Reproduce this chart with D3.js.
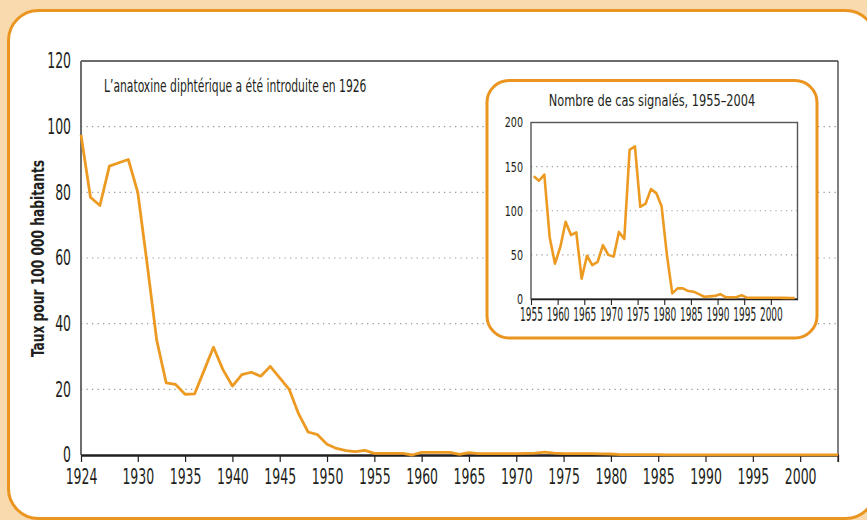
<!DOCTYPE html>
<html><head><meta charset="utf-8">
<script src="https://cdn.jsdelivr.net/npm/d3@7/dist/d3.min.js"></script>
<style>
html,body{margin:0;padding:0;background:#F9D9AE;}
svg{display:block;}
text{font-family:"DejaVu Sans Condensed","DejaVu Sans",sans-serif;fill:#231F20;}
</style></head>
<body>
<script>
// ---- Main series: rate per 100 000 population ----
const mainYears = [1924,1925,1926,1927,1928,1929,1930,1931,1932,1933,1934,1935,1936,1937,1938,1939,1940,1941,1942,1943,1944,1945,1946,1947,1948,1949,1950,1951,1952,1953,1954,1955,1956,1957,1958,1959,1960,1961,1962,1963,1964,1965,1966,1967,1968,1969,1970,1971,1972,1973,1974,1975,1976,1977,1978,1979,1980,1981,1982,1983,1984,1985,1986,1987,1988,1989,1990,1991,1992,1993,1994,1995,1996,1997,1998,1999,2000,2001,2002,2003,2004];
const mainRates = [97.5,78.5,76,88,89,90,80,58,35,22,21.5,18.5,18.6,25.7,32.8,26,21,24.5,25.2,24,27,23.5,20,12.5,7,6.2,3.3,2,1.3,1,1.4,0.5,0.5,0.5,0.5,0.0,0.8,0.8,0.8,0.8,0.2,0.7,0.4,0.4,0.4,0.4,0.4,0.5,0.6,0.9,0.6,0.4,0.4,0.4,0.4,0.35,0.3,0.1,0.1,0.1,0.1,0.1,0.05,0.05,0.05,0.05,0.05,0.05,0.05,0.05,0.05,0.05,0.05,0.05,0.05,0.05,0.05,0.05,0.05,0.05,0.05];
const mainYTicks = [0,20,40,60,80,100,120];
const mainXTicks = [1924,1930,1935,1940,1945,1950,1955,1960,1965,1970,1975,1980,1985,1990,1995,2000];

// ---- Inset series: number of reported cases ----
const insetYears = [1955,1956,1957,1958,1959,1960,1961,1962,1963,1964,1965,1966,1967,1968,1969,1970,1971,1972,1973,1974,1975,1976,1977,1978,1979,1980,1981,1982,1983,1984,1985,1986,1987,1988,1989,1990,1991,1992,1993,1994,1995,1996,1997,1998,1999,2000,2001,2002,2003,2004];
const insetCases = [139,134,141,70,40,59,87.5,72.5,75.5,23,49,38.5,42,61,50,48,76,68,169,173,104.5,108,124.5,120,105,50,6.4,12,12,9,8.3,5.5,2.6,3,3.5,5.5,2,2,2,4.2,1.5,1.5,1.5,1.5,1.5,1.5,1.4,1.3,1.2,1.1];
const insetYTicks = [0,50,100,150,200];
const insetXTicks = [1955,1960,1965,1970,1975,1980,1985,1990,1995,2000];

const annotation = "L\u2019anatoxine diphtérique a été introduite en 1926";
const yTitle = "Taux pour 100 000 habitants";
const insetTitle = "Nombre de cas signalés, 1955\u20132004";

const W = 867, H = 520;
const ORANGE = "#EA951F";
const LINE = "#EC9A22";

const svg = d3.select("body").append("svg").attr("width", W).attr("height", H);

// panel
svg.append("rect").attr("x", 8.5).attr("y", 10.5).attr("width", 867).attr("height", 508)
  .attr("rx", 30).attr("fill", "#fff").attr("stroke", ORANGE).attr("stroke-width", 3);

// ---- main chart ----
const x = d3.scaleLinear().domain([1924, 2004]).range([81, 838]);
const y = d3.scaleLinear().domain([0, 120]).range([455, 61]);

// gridlines
svg.append("g").selectAll("line").data(mainYTicks.filter(v => v > 0 && v < 120)).join("line")
  .attr("x1", x(1924)).attr("x2", x(2004)).attr("y1", d => y(d)).attr("y2", d => y(d))
  .attr("stroke", "#9a9a9a").attr("stroke-width", 1.2).attr("stroke-dasharray", "1.3,4.2");

// frame top & right
svg.append("line").attr("x1", x(1924)).attr("x2", x(2004)).attr("y1", y(120)).attr("y2", y(120))
  .attr("stroke", "#3a3a3a").attr("stroke-width", 1.3);
svg.append("line").attr("x1", x(2004)).attr("x2", x(2004)).attr("y1", y(120)).attr("y2", y(0) + 7)
  .attr("stroke", "#3a3a3a").attr("stroke-width", 1.3);
// left axis line
svg.append("line").attr("x1", x(1924)).attr("x2", x(1924)).attr("y1", y(120)).attr("y2", y(0))
  .attr("stroke", "#6d6d6d").attr("stroke-width", 2);

// y labels
const MS = 0.66;
const yAx = svg.append("g").attr("transform", `translate(${x(1924)},0)`)
  .call(d3.axisLeft(y).tickValues(mainYTicks).tickSize(0));
yAx.select(".domain").remove();
yAx.selectAll("text").attr("font-size", 21).attr("font-family", null)
  .attr("transform", `scale(${MS},1)`).attr("x", -10 / MS);

// annotation
svg.append("text").attr("transform", `translate(104,92) scale(0.705,1)`)
  .attr("font-size", 17).text(annotation);

// y title
svg.append("text").attr("transform", "translate(44,258.5) rotate(-90) scale(0.8,1)")
  .attr("text-anchor", "middle").attr("font-size", 17).attr("font-weight", "bold").text(yTitle);

// line
const mainLine = d3.line().x((d, i) => x(mainYears[i])).y(d => y(d));

// x axis
const xAx = svg.append("g").attr("transform", `translate(0,${y(0)})`)
  .call(d3.axisBottom(x).tickValues(mainXTicks.concat([2004])).tickFormat(d => d === 2004 ? "" : d3.format("d")(d))
    .tickSizeInner(7).tickSizeOuter(0).tickPadding(7));
xAx.select(".domain").attr("stroke", "#231F20").attr("stroke-width", 2.4);
xAx.selectAll(".tick line").attr("stroke", "#231F20").attr("stroke-width", 1.2);
xAx.selectAll("text").attr("font-size", 21).attr("font-family", null).attr("transform", `scale(${MS},1)`);

svg.append("path").datum(mainRates).attr("d", mainLine).attr("fill", "none")
  .attr("stroke", LINE).attr("stroke-width", 2.8).attr("stroke-linejoin", "round");

// ---- inset ----
svg.append("rect").attr("x", 487).attr("y", 80.5).attr("width", 330).attr("height", 257.5)
  .attr("rx", 22).attr("fill", "#fff").attr("stroke", ORANGE).attr("stroke-width", 3);

const ix = d3.scaleLinear().domain([1955, 2005]).range([531, 797.5]);
const iy = d3.scaleLinear().domain([0, 200]).range([299, 122.5]);

svg.append("text").attr("transform", `translate(652,106) scale(0.79,1)`).attr("text-anchor", "middle")
  .attr("font-size", 16).text(insetTitle);

svg.append("g").selectAll("line").data(insetYTicks.filter(v => v > 0 && v < 200)).join("line")
  .attr("x1", ix(1955)).attr("x2", ix(2005)).attr("y1", d => iy(d)).attr("y2", d => iy(d))
  .attr("stroke", "#9a9a9a").attr("stroke-width", 1.1).attr("stroke-dasharray", "1.2,4");

svg.append("rect").attr("x", ix(1955)).attr("y", iy(200)).attr("width", ix(2005) - ix(1955))
  .attr("height", iy(0) - iy(200)).attr("fill", "none").attr("stroke", "#555").attr("stroke-width", 1.4);

const IS = 0.76;
const iyAx = svg.append("g").attr("transform", `translate(${ix(1955)},0)`)
  .call(d3.axisLeft(iy).tickValues(insetYTicks).tickSize(0));
iyAx.select(".domain").remove();
iyAx.selectAll("text").attr("font-size", 14).attr("font-family", null)
  .attr("transform", `scale(${IS},1)`).attr("x", -8 / IS);

const IXS = 0.5;
const ixAx = svg.append("g").attr("transform", `translate(0,${iy(0)})`)
  .call(d3.axisBottom(ix).tickValues(insetXTicks).tickFormat(d3.format("d")).tickSizeInner(6).tickSizeOuter(0).tickPadding(2));
ixAx.select(".domain").attr("stroke", "#231F20").attr("stroke-width", 1.6);
ixAx.selectAll(".tick line").attr("stroke", "#231F20").attr("stroke-width", 1.1);
ixAx.selectAll("text").attr("font-size", 20).attr("font-family", null).attr("transform", `scale(${IXS},1)`);

const insetLine = d3.line().x((d, i) => ix(insetYears[i] + 0.5)).y(d => iy(d));
svg.append("path").datum(insetCases).attr("d", insetLine).attr("fill", "none")
  .attr("stroke", LINE).attr("stroke-width", 2.6).attr("stroke-linejoin", "round");
</script>
</body></html>
